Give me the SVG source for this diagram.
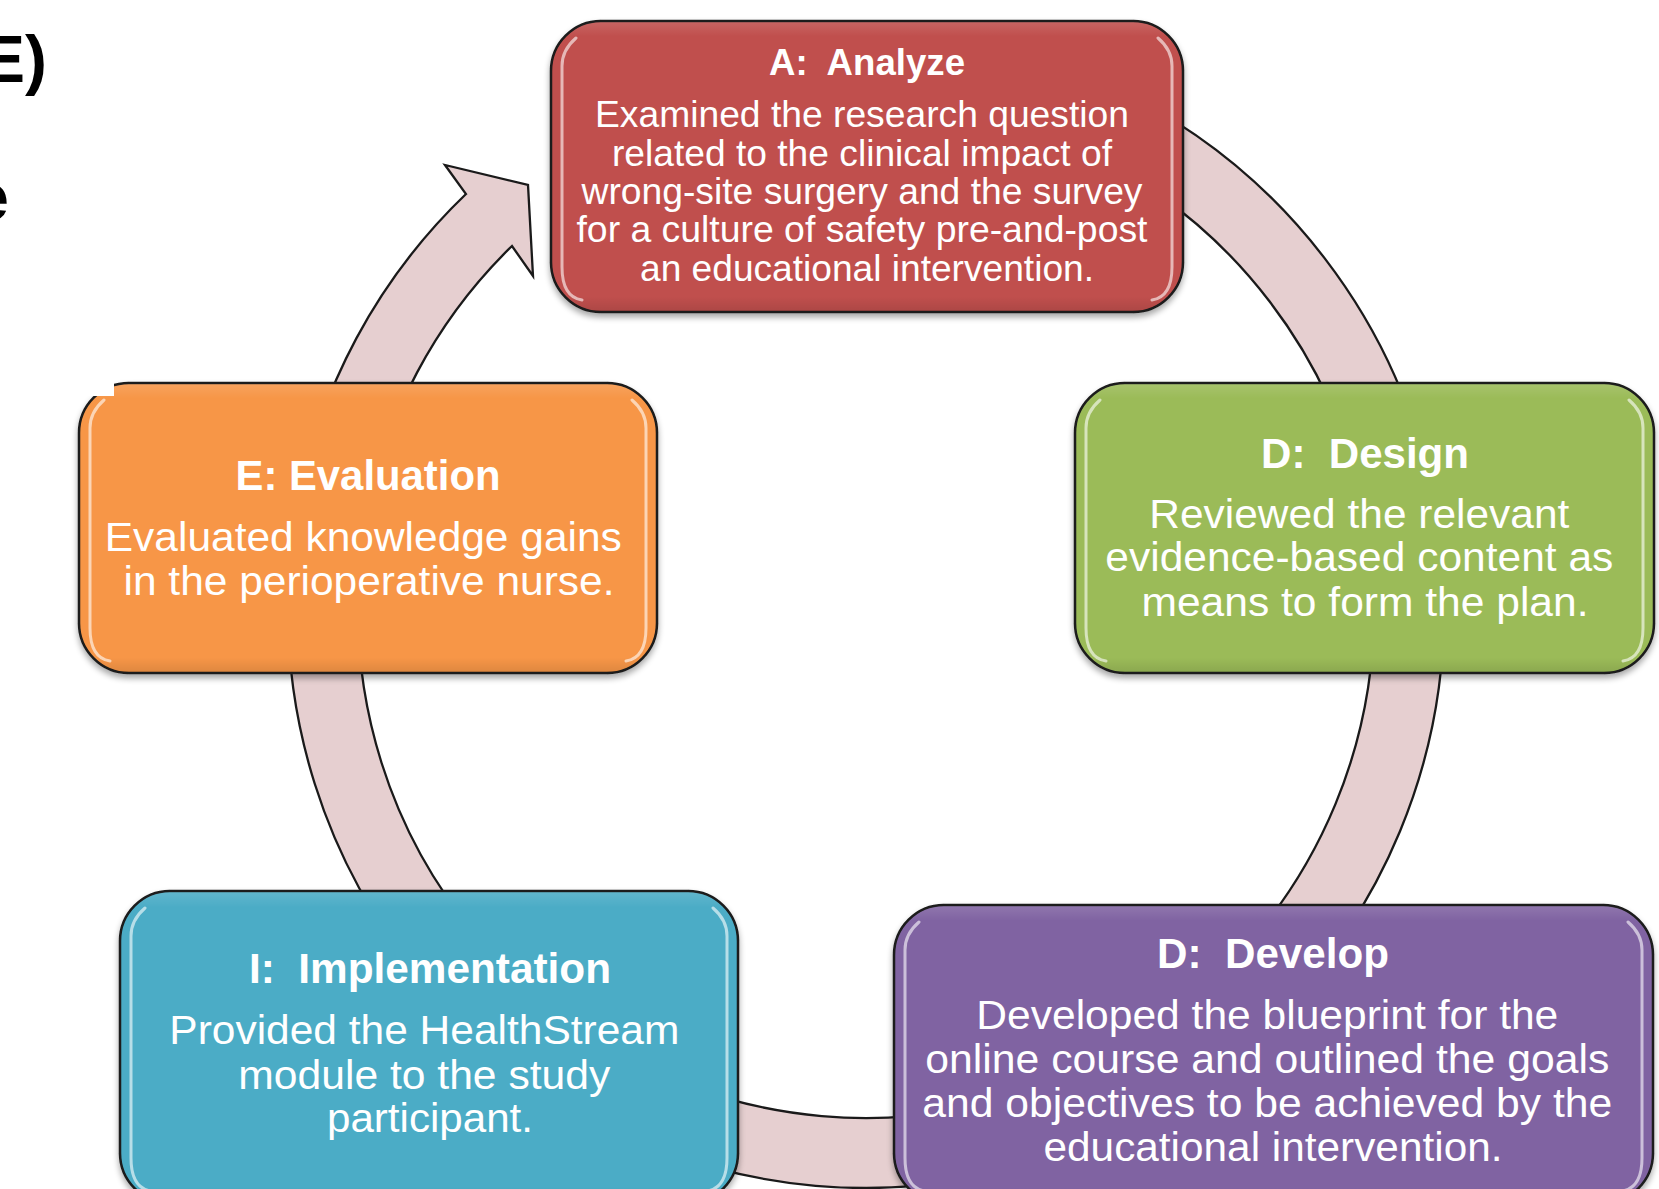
<svg xmlns="http://www.w3.org/2000/svg" width="1659" height="1189" viewBox="0 0 1659 1189">
  <defs>
    <style>
      .conn { fill: #E6CFD0; stroke: #1a1a1a; stroke-width: 2.3; stroke-linejoin: miter; }
      .box { stroke: #1a1a1a; stroke-width: 2.5; filter: url(#shadow); }
      .hl { fill: none; stroke: #ffffff; stroke-opacity: 0.6; stroke-width: 3; stroke-linecap: round; }
      .shade { fill: url(#topBottom); }
      .title { font-family: "Liberation Sans Narrow", "Liberation Sans", Arial, sans-serif; font-weight: bold; fill: #ffffff; text-anchor: middle; }
      .body { font-family: "Liberation Sans Narrow", "Liberation Sans", Arial, sans-serif; fill: #ffffff; text-anchor: middle; }
      .big { font-family: "Liberation Sans", Arial, sans-serif; font-weight: bold; fill: #000000; font-size: 66px; text-anchor: end; }
    </style>
    <filter id="shadow" x="-5%" y="-5%" width="110%" height="115%">
      <feGaussianBlur in="SourceAlpha" stdDeviation="3"/>
      <feOffset dx="0" dy="4" result="b"/>
      <feComponentTransfer><feFuncA type="linear" slope="0.35"/></feComponentTransfer>
      <feMerge><feMergeNode/><feMergeNode in="SourceGraphic"/></feMerge>
    </filter>
    <linearGradient id="topBottom" x1="0" y1="0" x2="0" y2="1">
      <stop offset="0" stop-color="#ffffff" stop-opacity="0.12"/>
      <stop offset="0.05" stop-color="#ffffff" stop-opacity="0"/>
      <stop offset="0.95" stop-color="#000000" stop-opacity="0"/>
      <stop offset="1" stop-color="#000000" stop-opacity="0.1"/>
    </linearGradient>
  </defs>

  <rect x="0" y="0" width="1659" height="1189" fill="#ffffff"/>

  <!-- partial heading text at the left margin -->
  <text class="big" x="47" y="82">E)</text>
  <text class="big" x="9" y="220">e</text>

  <!-- cycle connectors: ring segments centred at (866,610), radii 508..578 -->
  <g id="connectors">
    <path class="conn" d="M 1110.3 86.2 A 578 578 0 0 1 1435.2 509.6 L 1366.3 521.8 A 508 508 0 0 0 1080.7 149.6 Z"/>
    <path class="conn" d="M 1444 610 A 578 578 0 0 1 1274.7 1018.7 L 1225.2 969.2 A 508 508 0 0 0 1374 610 Z"/>
    <path class="conn" d="M 966.4 1179.2 A 578 578 0 0 1 668.3 1153.1 L 692.3 1087.4 A 508 508 0 0 0 954.2 1110.3 Z"/>
    <path class="conn" d="M 423.2 981.5 A 578 578 0 0 1 290.2 559.6 L 359.9 565.7 A 508 508 0 0 0 476.9 936.5 Z"/>
    <path class="conn" d="M 296.8 509.6 A 578 578 0 0 1 466 194 L 445 165 L 528 185 L 533 276 L 512 246 A 508 508 0 0 0 365.7 521.8 Z"/>
  </g>

  <g id="node-analyze">
    <rect class="box" x="551" y="21" width="632" height="291" rx="50" fill="#C0504D"/>
    <rect class="shade" x="552" y="22" width="630" height="289" rx="49"/>
    <path class="hl" d="M 576 38 Q 562 50 562 66 L 562 267 Q 562 297 582 300"/>
    <path class="hl" d="M 1158 38 Q 1172 50 1172 66 L 1172 267 Q 1172 297 1152 300"/>
    <text class="title" x="867" y="75" font-size="36" textLength="196" lengthAdjust="spacingAndGlyphs" xml:space="preserve">A:  Analyze</text>
    <text class="body" font-size="36">
      <tspan x="867" y="127" textLength="534" lengthAdjust="spacingAndGlyphs">Examined the research question</tspan>
      <tspan x="867" y="166" textLength="500" lengthAdjust="spacingAndGlyphs">related to the clinical impact of</tspan>
      <tspan x="867" y="204" textLength="561" lengthAdjust="spacingAndGlyphs">wrong-site surgery and the survey</tspan>
      <tspan x="867" y="242" textLength="571" lengthAdjust="spacingAndGlyphs">for a culture of safety pre-and-post</tspan>
      <tspan x="867" y="281" textLength="454" lengthAdjust="spacingAndGlyphs">an educational intervention.</tspan>
    </text>
  </g>

  <g id="node-design">
    <rect class="box" x="1075" y="383" width="579" height="290" rx="50" fill="#9BBB59"/>
    <rect class="shade" x="1076" y="384" width="577" height="288" rx="49"/>
    <path class="hl" d="M 1100 400 Q 1086 412 1086 428 L 1086 628 Q 1086 658 1106 661"/>
    <path class="hl" d="M 1629 400 Q 1643 412 1643 428 L 1643 628 Q 1643 658 1623 661"/>
    <text class="title" x="1365" y="468" font-size="42" textLength="208" lengthAdjust="spacingAndGlyphs" xml:space="preserve">D:  Design</text>
    <text class="body" font-size="41">
      <tspan x="1365" y="528" textLength="420" lengthAdjust="spacingAndGlyphs">Reviewed the relevant</tspan>
      <tspan x="1365" y="571" textLength="508" lengthAdjust="spacingAndGlyphs">evidence-based content as</tspan>
      <tspan x="1365" y="616" textLength="447" lengthAdjust="spacingAndGlyphs">means to form the plan.</tspan>
    </text>
  </g>

  <g id="node-evaluation">
    <rect class="box" x="79" y="383" width="578" height="290" rx="50" fill="#F79646"/>
    <rect class="shade" x="80" y="384" width="576" height="288" rx="49"/>
    <path class="hl" d="M 104 400 Q 90 412 90 428 L 90 628 Q 90 658 110 661"/>
    <path class="hl" d="M 632 400 Q 646 412 646 428 L 646 628 Q 646 658 626 661"/>
    <text class="title" x="368" y="490" font-size="42" textLength="265" lengthAdjust="spacingAndGlyphs">E: Evaluation</text>
    <text class="body" font-size="41">
      <tspan x="369" y="551" textLength="517" lengthAdjust="spacingAndGlyphs">Evaluated knowledge gains</tspan>
      <tspan x="369" y="595" textLength="491" lengthAdjust="spacingAndGlyphs">in the perioperative nurse.</tspan>
    </text>
  </g>
  <!-- white patch over the top-left corner of the evaluation box -->
  <rect x="74" y="380" width="40" height="16" fill="#ffffff"/>

  <g id="node-implementation">
    <rect class="box" x="120" y="891" width="618" height="312" rx="50" fill="#4BACC6"/>
    <rect class="shade" x="121" y="892" width="616" height="310" rx="49"/>
    <path class="hl" d="M 145 908 Q 131 920 131 936 L 131 1158 Q 131 1188 151 1191"/>
    <path class="hl" d="M 713 908 Q 727 920 727 936 L 727 1158 Q 727 1188 707 1191"/>
    <text class="title" x="430" y="983" font-size="42" textLength="362" lengthAdjust="spacingAndGlyphs" xml:space="preserve">I:  Implementation</text>
    <text class="body" font-size="41">
      <tspan x="430" y="1044" textLength="510" lengthAdjust="spacingAndGlyphs">Provided the HealthStream</tspan>
      <tspan x="430" y="1089" textLength="372" lengthAdjust="spacingAndGlyphs">module to the study</tspan>
      <tspan x="430" y="1132" textLength="206" lengthAdjust="spacingAndGlyphs">participant.</tspan>
    </text>
  </g>

  <g id="node-develop">
    <rect class="box" x="894" y="905" width="759" height="298" rx="50" fill="#8064A2"/>
    <rect class="shade" x="895" y="906" width="757" height="296" rx="49"/>
    <path class="hl" d="M 919 922 Q 905 934 905 950 L 905 1158 Q 905 1188 925 1191"/>
    <path class="hl" d="M 1628 922 Q 1642 934 1642 950 L 1642 1158 Q 1642 1188 1622 1191"/>
    <text class="title" x="1273" y="968" font-size="42" textLength="232" lengthAdjust="spacingAndGlyphs" xml:space="preserve">D:  Develop</text>
    <text class="body" font-size="41">
      <tspan x="1273" y="1029" textLength="582" lengthAdjust="spacingAndGlyphs">Developed the blueprint for the</tspan>
      <tspan x="1273" y="1073" textLength="684" lengthAdjust="spacingAndGlyphs">online course and outlined the goals</tspan>
      <tspan x="1273" y="1117" textLength="690" lengthAdjust="spacingAndGlyphs">and objectives to be achieved by the</tspan>
      <tspan x="1273" y="1161" textLength="459" lengthAdjust="spacingAndGlyphs">educational intervention.</tspan>
    </text>
  </g>
</svg>
